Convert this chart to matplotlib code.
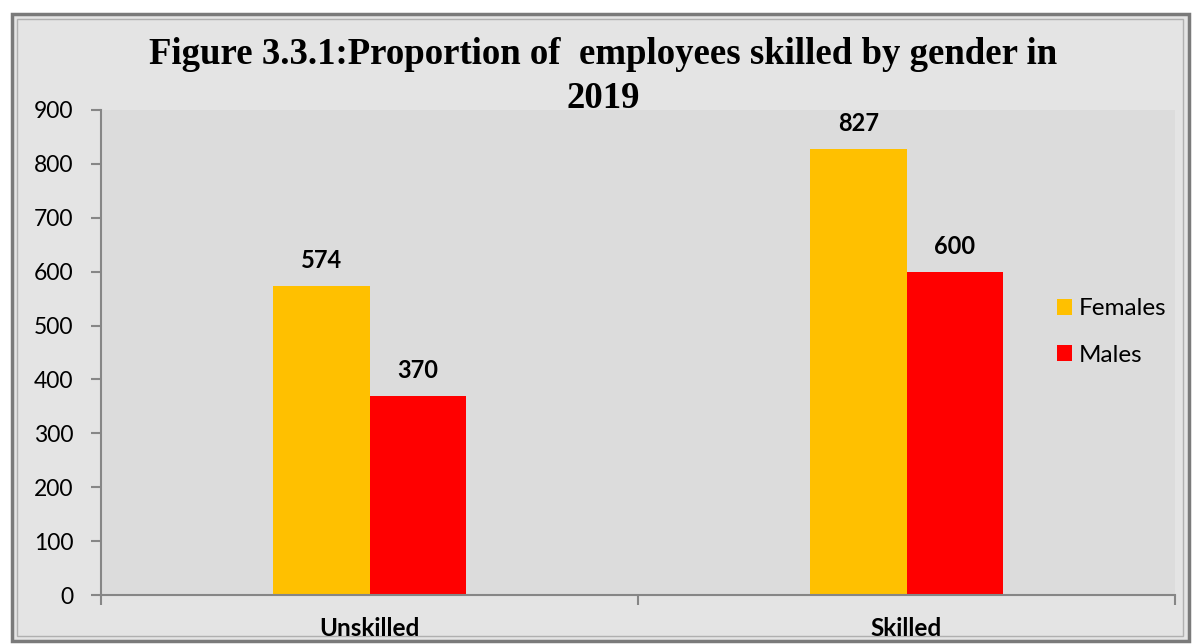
import matplotlib
matplotlib.use("Agg")
import matplotlib.pyplot as plt
from matplotlib.patches import Rectangle
import numpy as np

categories = ["Unskilled", "Skilled"]
series_names = ["Females", "Males"]
females = [574, 827]
males = [370, 600]
yticks = [0, 100, 200, 300, 400, 500, 600, 700, 800, 900]
title_lines = ["Figure 3.3.1:Proportion of  employees skilled by gender in", "2019"]

colors = ["#FFC000", "#FF0000"]
W, H = 1194, 644
fig = plt.figure(figsize=(W / 100, H / 100), dpi=100)
fig.patch.set_facecolor("white")

# chart frame
fig.add_artist(Rectangle((12 / W, 1 - 641 / H), (1189 - 12) / W, (641 - 14) / H,
                         transform=fig.transFigure, facecolor="#e4e4e4",
                         edgecolor="#7a7a7a", linewidth=2.5, zorder=-10))
fig.add_artist(Rectangle((17 / W, 1 - 636 / H), (1183 - 17) / W, (636 - 19) / H,
                         transform=fig.transFigure, facecolor="none",
                         edgecolor="#b0b0b0", linewidth=1.0, zorder=-9))

ax = fig.add_axes([101 / W, 1 - 595 / H, (1175 - 101) / W, (595 - 110) / H])
ax.set_facecolor("#dcdcdc")

body_font = "Lato"
x = np.arange(len(categories))
bw = 0.18
b1 = ax.bar(x - bw / 2, females, bw, color=colors[0], label=series_names[0], zorder=2)
b2 = ax.bar(x + bw / 2, males, bw, color=colors[1], label=series_names[1], zorder=2)

for bars, vals in [(b1, females), (b2, males)]:
    for r, v in zip(bars, vals):
        ax.annotate(f"{v}", (r.get_x() + r.get_width() / 2, v), xytext=(0, 10),
                    textcoords="offset points", ha="center", va="bottom",
                    fontsize=17, fontweight="bold", family=body_font, color="black")

ax.set_xlim(-0.5, 1.5)
ax.set_ylim(0, 900)
ax.set_yticks(yticks)
ax.set_yticklabels([str(t) for t in yticks], fontsize=16.5, family=body_font)
ax.set_xticks([-0.5, 0.5, 1.5])
ax.set_xticklabels([])
ax.set_xticks(x, minor=True)
ax.set_xticklabels(categories, minor=True, fontsize=17.5, fontweight="bold", family=body_font)
ax.tick_params(axis="x", which="minor", length=0, pad=16)
ax.tick_params(axis="x", which="major", length=7, color="#868686", width=1.5)
ax.tick_params(axis="y", length=7, color="#868686", width=1.5, pad=13)

for s in ["top", "right"]:
    ax.spines[s].set_visible(False)
for s in ["left", "bottom"]:
    ax.spines[s].set_color("#868686")
    ax.spines[s].set_linewidth(1.5)

for line, yc in zip(title_lines, [55, 98]):
    fig.text(603 / W, 1 - yc / H, line, ha="center", va="center", fontsize=26.5,
             fontweight="bold", family="Liberation Serif")

leg = ax.legend(loc="center left", bbox_to_anchor=(1035 / W, 1 - 332 / H),
                bbox_transform=fig.transFigure, frameon=False,
                prop={"family": body_font, "size": 17.5},
                handlelength=0.62, handleheight=0.62, handletextpad=0.3, labelspacing=1.05)

fig.savefig("out.png", dpi=100, facecolor=fig.get_facecolor())
